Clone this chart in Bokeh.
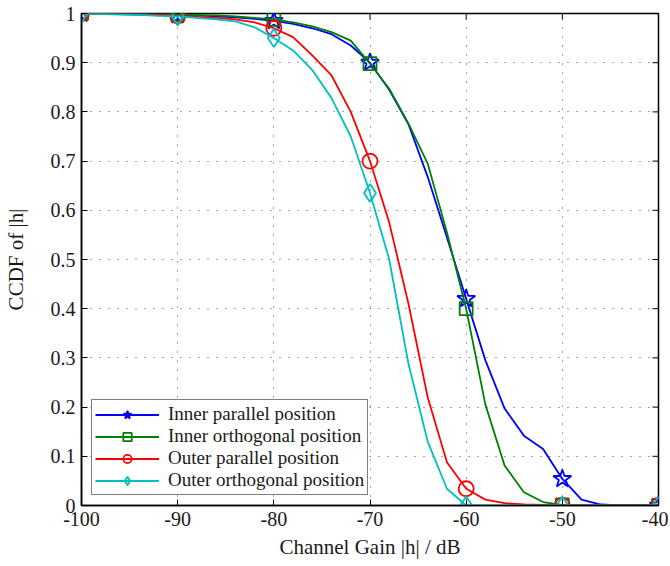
import math
from bokeh.plotting import figure
from bokeh.models import Legend, LegendItem, FixedTicker, Range1d, ColumnDataSource
from bokeh.embed import file_html
from bokeh.resources import INLINE

# ---- data ----
gain_db = [-100, -98, -96, -94, -92, -90, -88, -86, -84, -82, -80, -78, -76, -74, -72, -70,
           -68, -66, -64, -62, -60, -58, -56, -54, -52, -50, -48, -46, -44, -42, -40]

inner_parallel = [1.0, 1.0, 0.999, 0.999, 0.998, 0.997, 0.996, 0.994, 0.992, 0.989, 0.985, 0.979,
                  0.970, 0.958, 0.935, 0.900, 0.845, 0.775, 0.668, 0.545, 0.420, 0.295, 0.197,
                  0.142, 0.115, 0.054, 0.012, 0.002, 0.0, 0.0, 0.0]
inner_orthogonal = [1.0, 1.0, 0.999, 0.999, 0.998, 0.998, 0.997, 0.996, 0.994, 0.991, 0.988, 0.982,
                    0.974, 0.962, 0.945, 0.898, 0.847, 0.776, 0.695, 0.555, 0.400, 0.205, 0.081,
                    0.027, 0.007, 0.001, 0.0, 0.0, 0.0, 0.0, 0.0]
outer_parallel = [1.0, 0.999, 0.999, 0.998, 0.997, 0.995, 0.993, 0.991, 0.988, 0.982, 0.970, 0.952,
                  0.915, 0.874, 0.800, 0.700, 0.575, 0.410, 0.220, 0.088, 0.034, 0.012, 0.005,
                  0.002, 0.001, 0.0, 0.0, 0.0, 0.0, 0.0, 0.0]
outer_orthogonal = [1.0, 0.999, 0.998, 0.997, 0.995, 0.994, 0.991, 0.988, 0.984, 0.972, 0.950, 0.925,
                    0.885, 0.828, 0.750, 0.635, 0.500, 0.288, 0.130, 0.034, 0.0, 0.0, 0.0,
                    0.0, 0.0, 0.0, 0.0, 0.0, 0.0, 0.0, 0.0]

series_names = ["Inner parallel position", "Inner orthogonal position",
                "Outer parallel position", "Outer orthogonal position"]
series_values = [inner_parallel, inner_orthogonal, outer_parallel, outer_orthogonal]
series_colors = ["#0000ff", "#008000", "#ff0000", "#00bfbf"]
series_markers = ["star", "square", "circle", "diamond"]
series_marker_sizes = [19, 13, 15, 18]

x_ticks = [-100, -90, -80, -70, -60, -50, -40]
x_tick_labels = ["-100", "-90", "-80", "-70", "-60", "-50", "-40"]
y_ticks = [0, 0.1, 0.2, 0.3, 0.4, 0.5, 0.6, 0.7, 0.8, 0.9, 1.0]
y_tick_labels = ["0", "0.1", "0.2", "0.3", "0.4", "0.5", "0.6", "0.7", "0.8", "0.9", "1"]

FONT = "Liberation Serif"
TEXT_COLOR = "#1a1a1a"

p = figure(width=668, height=562, output_backend="svg", toolbar_location=None,
           x_range=Range1d(min(x_ticks), max(x_ticks)), y_range=Range1d(min(y_ticks), max(y_ticks)),
           min_border_left=78, min_border_right=10, min_border_top=13, min_border_bottom=57,
           x_axis_label="Channel Gain |h| / dB", y_axis_label="CCDF of |h|")
p.background_fill_color = "white"
p.border_fill_color = "white"
p.outline_line_color = "black"
p.outline_line_width = 1.5

for ax, ticks, labels in ((p.xaxis[0], x_ticks, x_tick_labels), (p.yaxis[0], y_ticks, y_tick_labels)):
    ax.ticker = FixedTicker(ticks=ticks)
    ax.major_label_overrides = {t: l for t, l in zip(ticks, labels)}
    ax.major_label_text_font = FONT
    ax.major_label_text_font_size = "20px"
    ax.major_label_text_color = TEXT_COLOR
    ax.axis_label_text_font = FONT
    ax.axis_label_text_font_size = "21px"
    ax.axis_label_text_font_style = "normal"
    ax.axis_label_text_color = TEXT_COLOR
    ax.major_tick_in = 6
    ax.major_tick_out = 0
    ax.minor_tick_in = 0
    ax.minor_tick_out = 0
    ax.axis_line_width = 1.5
    ax.major_tick_line_width = 1
    ax.major_label_standoff = 6

p.xaxis[0].major_label_standoff = 6
p.xaxis[0].axis_label_standoff = 6
p.yaxis[0].axis_label_standoff = 20

# inward ticks on the top and right edges of the box
p.ray(x=x_ticks, y=[max(y_ticks)] * len(x_ticks), length=6, length_units="screen",
      angle=-math.pi / 2, line_color="black", line_width=1)
p.ray(x=[max(x_ticks)] * len(y_ticks), y=y_ticks, length=6, length_units="screen",
      angle=math.pi, line_color="black", line_width=1)

p.xgrid.ticker = FixedTicker(ticks=x_ticks)
p.ygrid.ticker = FixedTicker(ticks=y_ticks)
p.grid.grid_line_color = "#000000"
p.grid.grid_line_alpha = 0.7
p.grid.grid_line_dash = "1 8"
p.grid.grid_line_width = 1

items = []
for name, vals, col, mk, ms in zip(series_names, series_values, series_colors,
                                   series_markers, series_marker_sizes):
    src = ColumnDataSource(dict(x=gain_db, y=vals))
    mx = [x for x in gain_db if x % 10 == 0]
    my = [v for x, v in zip(gain_db, vals) if x % 10 == 0]
    msrc = ColumnDataSource(dict(x=mx, y=my))
    lr = p.line("x", "y", source=src, line_color=col, line_width=1.8)
    sr = p.scatter("x", "y", source=msrc, marker=mk, size=ms, fill_color=None,
                   line_color=col, line_width=1.8)
    items.append(LegendItem(label=name, renderers=[lr, sr]))

legend = Legend(items=items, location="bottom_left")
legend.label_text_font = FONT
legend.label_text_font_size = "19px"
legend.label_text_color = TEXT_COLOR
legend.glyph_width = 64
legend.glyph_height = 21
legend.label_height = 21
legend.spacing = 0
legend.padding = 3
legend.margin = 10
legend.label_standoff = 9
legend.border_line_color = "black"
legend.border_line_width = 1.5
legend.background_fill_alpha = 1.0
p.add_layout(legend, "center")

open("out.html", "w").write(file_html(p, INLINE))
